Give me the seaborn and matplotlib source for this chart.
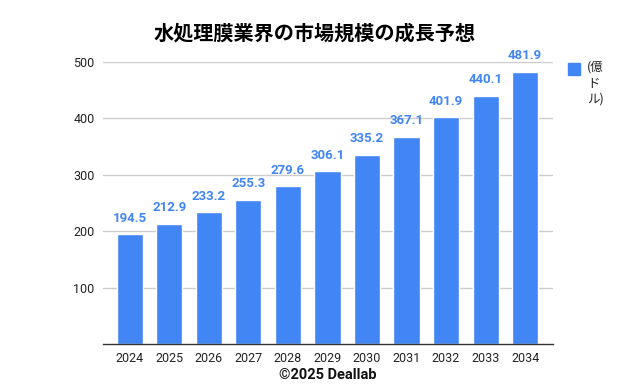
import matplotlib
matplotlib.use("Agg")
import matplotlib.pyplot as plt
import seaborn as sns

years = ["2024", "2025", "2026", "2027", "2028", "2029", "2030", "2031", "2032", "2033", "2034"]
values = [194.5, 212.9, 233.2, 255.3, 279.6, 306.1, 335.2, 367.1, 401.9, 440.1, 481.9]
y_ticks = [100, 200, 300, 400, 500]

title = "水処理膜業界の市場規模の成長予想"
legend_label = "(億\nド\nル)"
footer = "©2025 Deallab"

bar_color = "#4285F4"

sns.set_style("white")
plt.rcParams["font.family"] = ["Roboto", "Noto Sans CJK JP", "DejaVu Sans"]

fig = plt.figure(figsize=(6.26, 3.86), dpi=100)
ax = fig.add_axes([0.1645, 0.1088, 0.7185, 0.7306])

sns.barplot(x=years, y=values, color=bar_color, width=0.66, saturation=1, ax=ax)

ax.set_ylim(0, 500)
ax.set_xlim(-0.68, 10.7)
ax.set_yticks(y_ticks)
ax.yaxis.grid(True, color="#cccccc", linewidth=1)
ax.set_axisbelow(True)
for side in ["top", "right", "left"]:
    ax.spines[side].set_visible(False)
ax.spines["bottom"].set_color("#333333")
ax.spines["bottom"].set_linewidth(1)
ax.tick_params(axis="both", length=0, labelsize=9, colors="#222222")
ax.tick_params(axis="y", pad=6)
ax.tick_params(axis="x", pad=6)
ax.set_xlabel("")
ax.set_ylabel("")

ax.bar_label(ax.containers[0], labels=[f"{v:.1f}" for v in values], padding=7,
             color=bar_color, fontsize=9.5, fontweight="bold")

fig.text(0.502, 0.915, title, ha="center", va="center", fontsize=14.5, fontweight="bold",
         family=["Noto Sans CJK JP", "DejaVu Sans"], color="#000000")
fig.text(328 / 626, 0.028, footer, ha="center", va="center", fontsize=10.5, fontweight="bold",
         family=["Roboto", "DejaVu Sans"], color="#111111")

# legend: square plus wrapped text
fig.patches.append(plt.Rectangle((568 / 626, 1 - 75 / 386), 12 / 626, 12 / 386,
                                 transform=fig.transFigure, color=bar_color, figure=fig))
fig.text(587 / 626, 1 - 61 / 386, legend_label, ha="left", va="top", fontsize=9,
         color="#222222", linespacing=1.3, family=["Noto Sans CJK JP", "DejaVu Sans"])

plt.savefig("out.png", dpi=100)
